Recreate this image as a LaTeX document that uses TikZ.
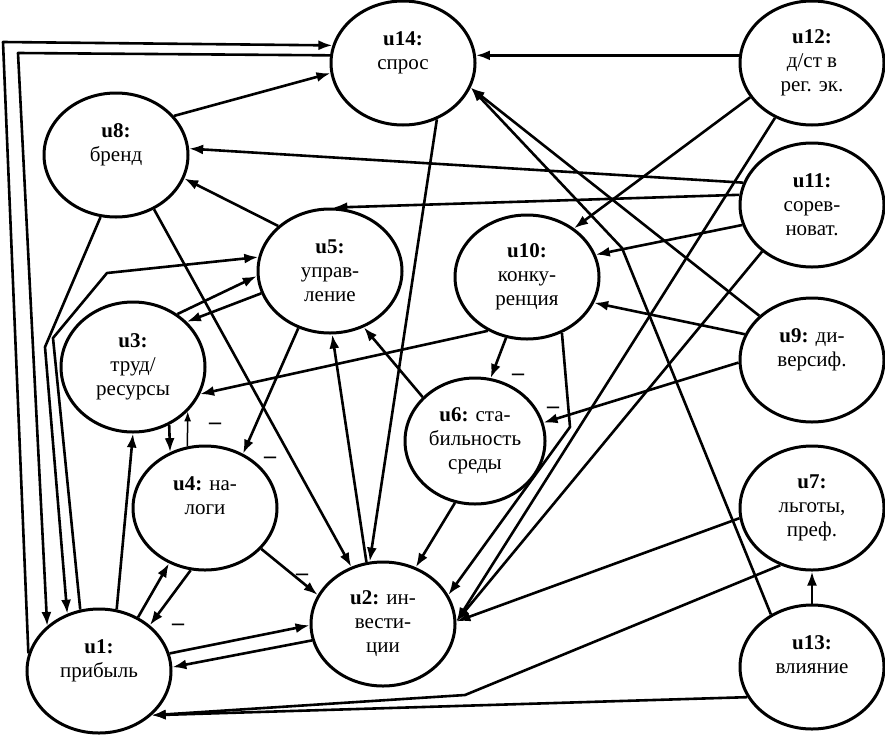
\documentclass[tikz,border=0pt]{standalone}
\usepackage{fontspec}
\setmainfont{Liberation Serif}
\usetikzlibrary{shapes.geometric,arrows.meta}
\begin{document}
\begin{tikzpicture}[x=1pt,y=-1pt]
% стили отдельно
\tikzset{
  factor/.style={ellipse, draw, line width=3pt, minimum width=144pt, minimum height=124pt,
    inner sep=0pt, align=center, font=\fontsize{21}{24}\selectfont},
  link/.style={line width=2.6pt, line join=round, -{Latex[length=14pt,width=10pt]}},
  neg/.style={inner sep=0pt, font=\fontsize{24}{24}\selectfont\bfseries}
}
\useasboundingbox (0,0) rectangle (885,734);

\node[factor] (u14) at (403,63) {\textbf{u14:}\\спрос\\~};
\node[factor] (u12) at (812,63) {\textbf{u12:}\\д/ст в\\рег. эк.};
\node[factor] (u8) at (116,155) {\textbf{u8:}\\бренд\\~};
\node[factor] (u11) at (812,205) {\textbf{u11:}\\сорев-\\новат.};
\node[factor] (u5) at (330,271) {\textbf{u5:}\\управ-\\ление};
\node[factor] (u10) at (527,277) {\textbf{u10:}\\конку-\\ренция};
\node[factor, minimum height=130pt] (u3) at (133,367) {\textbf{u3:}\\труд/\\ресурсы};
\node[factor] (u9) at (812,360) {\textbf{u9:} ди-\\версиф.\\~};
\node[factor, minimum width=140pt, minimum height=126pt] (u6) at (475,441) {\textbf{u6:} ста-\\бильность\\среды};
\node[factor] (u4) at (205,508) {\textbf{u4:} на-\\логи\\~};
\node[factor] (u7) at (812,508) {\textbf{u7:}\\льготы,\\преф.};
\node[factor] (u2) at (383,624) {\textbf{u2:} ин-\\вести-\\ции};
\node[factor] (u13) at (812,667) {\textbf{u13:}\\влияние\\~};
\node[factor] (u1) at (99,671) {\textbf{u1:}\\прибыль\\~};

\coordinate (k1) at (3,42);
\coordinate (k2) at (18,53);
\coordinate (k3) at (45,347);
\coordinate (k4) at (53,338);
\coordinate (k5) at (107,273);
\coordinate (k6) at (570,427);
\coordinate (k7) at (622,248);
\coordinate (k8) at (465,695);

\draw[link] (u12.174) -- (u14.6);
\draw[link] (u12.209) -- (u10.46);
\draw[link] (u12.236) -- (u2.2);
\draw[link] (u11.223) -- (u2.2);
\draw[link] (u7.188) -- (u2.2);
\draw[link] (u10.302) -- (k6) -- (u2.24);
\draw[link] (u13.205) -- (u1.320);
\draw[link] (u7.241) -- (k8) -- (u1.320);
\draw[link] (u13.128) -- (k7) -- (u14.340);
\draw[link] (u9.140) -- (u14.340);
\draw[link] (u11.162) -- (u8.5);
\draw[link] (u11.172) -- (u5.87);
\draw[link] (u11.196) -- (u10.18);
\draw[link] (u8.34) -- (u14.188);
\draw[link] (u5.139) -- (u8.341);
\draw[link] (u1.166) -- (k1) -- (u14.166);
\draw[link] (u14.174) -- (k2) -- (u1.139);
\draw[link] (u8.256) -- (k3) -- (u1.119);
\draw[link] (u1.107) -- (k4) -- (k5) -- (u5.169);
\draw[link] (u1.74) -- (u3.270);
\draw[link] (u3.50) -- (u5.184);
\draw[link] (u5.198) -- (u3.40);
\draw[link] (u5.241) -- (u4.55);
\draw[link] (u3.302) -- (u4.122);
\draw[line width=1.5pt, -{Latex[length=10pt,width=7pt]}] (u4.106) -- (u3.321);
\draw[link] (u10.234) -- (u3.338);
\draw[link] (u8.305) -- (u2.119);
\draw[link] (u14.301) -- (u2.102);
\draw[link] (u2.105) -- (u5.272);
\draw[link] (u6.140) -- (u5.301);
\draw[link] (u10.251) -- (u6.76);
\draw[link] (u9.159) -- (u10.339);
\draw[link] (u9.182) -- (u6.15);
\draw[link] (u6.252) -- (u2.60);
\draw[link] (u4.257) -- (u1.42);
\draw[link] (u1.54) -- (u4.237);
\draw[link] (u4.324) -- (u2.156);
\draw[link] (u1.14) -- (u2.181);
\draw[link] (u2.193) -- (u1.3);
\draw[link] (u13.90) -- (u7.270);

\node[neg] (m43) at (215,426) {–};
\node[neg] (m54) at (270,460) {–};
\node[neg] (m106) at (518,377) {–};
\node[neg] (m96) at (553,410) {–};
\node[neg] (m42) at (302,577) {–};
\node[neg] (m41) at (178,627) {–};
\end{tikzpicture}
\end{document}
